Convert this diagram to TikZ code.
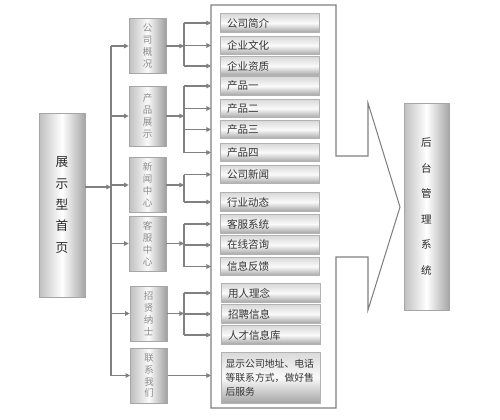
\documentclass[tikz,border=0pt]{standalone}
\usepackage{fontspec}
\newfontfamily\cjk{Noto Sans CJK SC}
\usetikzlibrary{arrows.meta}

\begin{document}
\begin{tikzpicture}[
    x=0.02cm, y=-0.02cm,
    line/.style={draw=black!50, line width=0.6pt},
    arrow/.style={line, -{Triangle[length=2.6pt, width=2.6pt]}},
    tallbox/.style={draw=black!35, line width=0.4pt, left color=black!25, right color=black!35, middle color=white,
        minimum width=0.92cm, align=center, inner sep=0pt, font=\cjk\fontsize{7.2}{12.2}\selectfont, text=black!85},
    catbox/.style={draw=black!35, line width=0.4pt, left color=black!25, right color=black!38, middle color=black!2,
        minimum width=0.74cm, minimum height=1.1cm, align=center, inner sep=0pt, font=\cjk\fontsize{5.4}{6.8}\selectfont, text=black!45},
    itembox/.style={draw=black!30, line width=0.4pt, top color=black!15, bottom color=black!35, middle color=black!2,
        text width=1.7cm, inner xsep=0.14cm, inner ysep=0pt, minimum height=0.37cm, align=left,
        font=\cjk\fontsize{6}{7}\selectfont, text=black!80}
]
\useasboundingbox (0,0) rectangle (500,419);

% === FRAME ===
\draw[line] (211,5) -- (336,5) -- (336,156) -- (368,156) -- (368,103) -- (400,207)
    -- (368,310) -- (368,257) -- (336,257) -- (336,408) -- (211,408) -- cycle;

% === NODES ===
\node[tallbox, minimum height=3.68cm] (home) at (62,205) {展\\示\\型\\首\\页};
\node[tallbox, minimum width=0.9cm, minimum height=4.14cm, font=\cjk\fontsize{6}{14.5}\selectfont] (admin) at (426.5,206.5) {后\\台\\管\\理\\系\\统};

\node[catbox] (about) at (147.5,46) {公\\司\\概\\况};
\node[catbox, minimum height=1.2cm] (product) at (147.5,116) {产\\品\\展\\示};
\node[catbox] (news) at (147.5,185) {新\\闻\\中\\心};
\node[catbox] (service) at (147.5,243.5) {客\\服\\中\\心};
\node[catbox] (recruit) at (148.5,313.5) {招\\贤\\纳\\士};
\node[catbox] (contact) at (149,375.5) {联\\系\\我\\们};

\node[itembox] (intro) at (269.5,23) {公司简介};
\node[itembox] (culture) at (269.5,45.5) {企业文化};
\node[itembox] (qualify) at (269.5,66) {企业资质};
\node[itembox] (prod1) at (269.5,86) {产品一};
\node[itembox] (prod2) at (269.5,108.5) {产品二};
\node[itembox] (prod3) at (269.5,129.5) {产品三};
\node[itembox] (prod4) at (269.5,152.5) {产品四};
\node[itembox] (compnews) at (269.5,174.5) {公司新闻};
\node[itembox] (trade) at (269.5,202) {行业动态};
\node[itembox] (cssys) at (269.5,224) {客服系统};
\node[itembox] (online) at (269.5,245) {在线咨询};
\node[itembox] (feedback) at (269.5,266.5) {信息反馈};
\node[itembox] (idea) at (270.5,293) {用人理念};
\node[itembox] (jobs) at (270.5,314) {招聘信息};
\node[itembox] (talent) at (270.5,335) {人才信息库};
\node[itembox, text width=1.8cm, inner xsep=0.09cm, minimum height=1.02cm, font=\cjk\fontsize{5.6}{8}\selectfont]
    (address) at (270.5,377.5) {显示公司地址、电话\\等联系方式，做好售\\后服务};

\coordinate (trunk) at (111,187);
\coordinate (jx) at (184,0);
\coordinate (fx) at (211,0);

% === HOME TO SECTIONS ===
\draw[arrow] (home.east |- trunk) -- (trunk);
\draw[line] (about.west -| trunk) -- (contact.west -| trunk);
\draw[arrow] (about.west -| trunk) -- (about.west);
\draw[arrow] (product.west -| trunk) -- (product.west);
\draw[arrow] (news.west -| trunk) -- (news.west);
\draw[arrow] (service.west -| trunk) -- (service.west);
\draw[arrow] (recruit.west -| trunk) -- (recruit.west);
\draw[arrow] (contact.west -| trunk) -- (contact.west);

% === SECTIONS TO PAGES ===
\draw[arrow] (about.east) -- (about.east -| jx);
\draw[line] (intro.west -| jx) -- (qualify.west -| jx);
\draw[arrow] (intro.west -| jx) -- (intro.west -| fx);
\draw[arrow] (culture.west -| jx) -- (culture.west -| fx);
\draw[arrow] (qualify.west -| jx) -- (qualify.west -| fx);

\draw[arrow] (product.east) -- (product.east -| jx);
\draw[line] (prod1.west -| jx) -- (prod4.west -| jx);
\draw[arrow] (prod1.west -| jx) -- (prod1.west -| fx);
\draw[arrow] (prod2.west -| jx) -- (prod2.west -| fx);
\draw[arrow] (prod3.west -| jx) -- (prod3.west -| fx);
\draw[arrow] (prod4.west -| jx) -- (prod4.west -| fx);

\draw[arrow] (news.east) -- (news.east -| jx);
\draw[line] (compnews.west -| jx) -- (trade.west -| jx);
\draw[arrow] (compnews.west -| jx) -- (compnews.west -| fx);
\draw[arrow] (trade.west -| jx) -- (trade.west -| fx);

\draw[arrow] (service.east) -- (service.east -| jx);
\draw[line] (cssys.west -| jx) -- (feedback.west -| jx);
\draw[arrow] (cssys.west -| jx) -- (cssys.west -| fx);
\draw[arrow] (online.west -| jx) -- (online.west -| fx);
\draw[arrow] (feedback.west -| jx) -- (feedback.west -| fx);

\draw[arrow] (recruit.east) -- (recruit.east -| jx);
\draw[line] (idea.west -| jx) -- (talent.west -| jx);
\draw[arrow] (idea.west -| jx) -- (idea.west -| fx);
\draw[arrow] (jobs.west -| jx) -- (jobs.west -| fx);
\draw[arrow] (talent.west -| jx) -- (talent.west -| fx);

\draw[arrow] (contact.east) -- (contact.east -| fx);

\end{tikzpicture}
\end{document}
